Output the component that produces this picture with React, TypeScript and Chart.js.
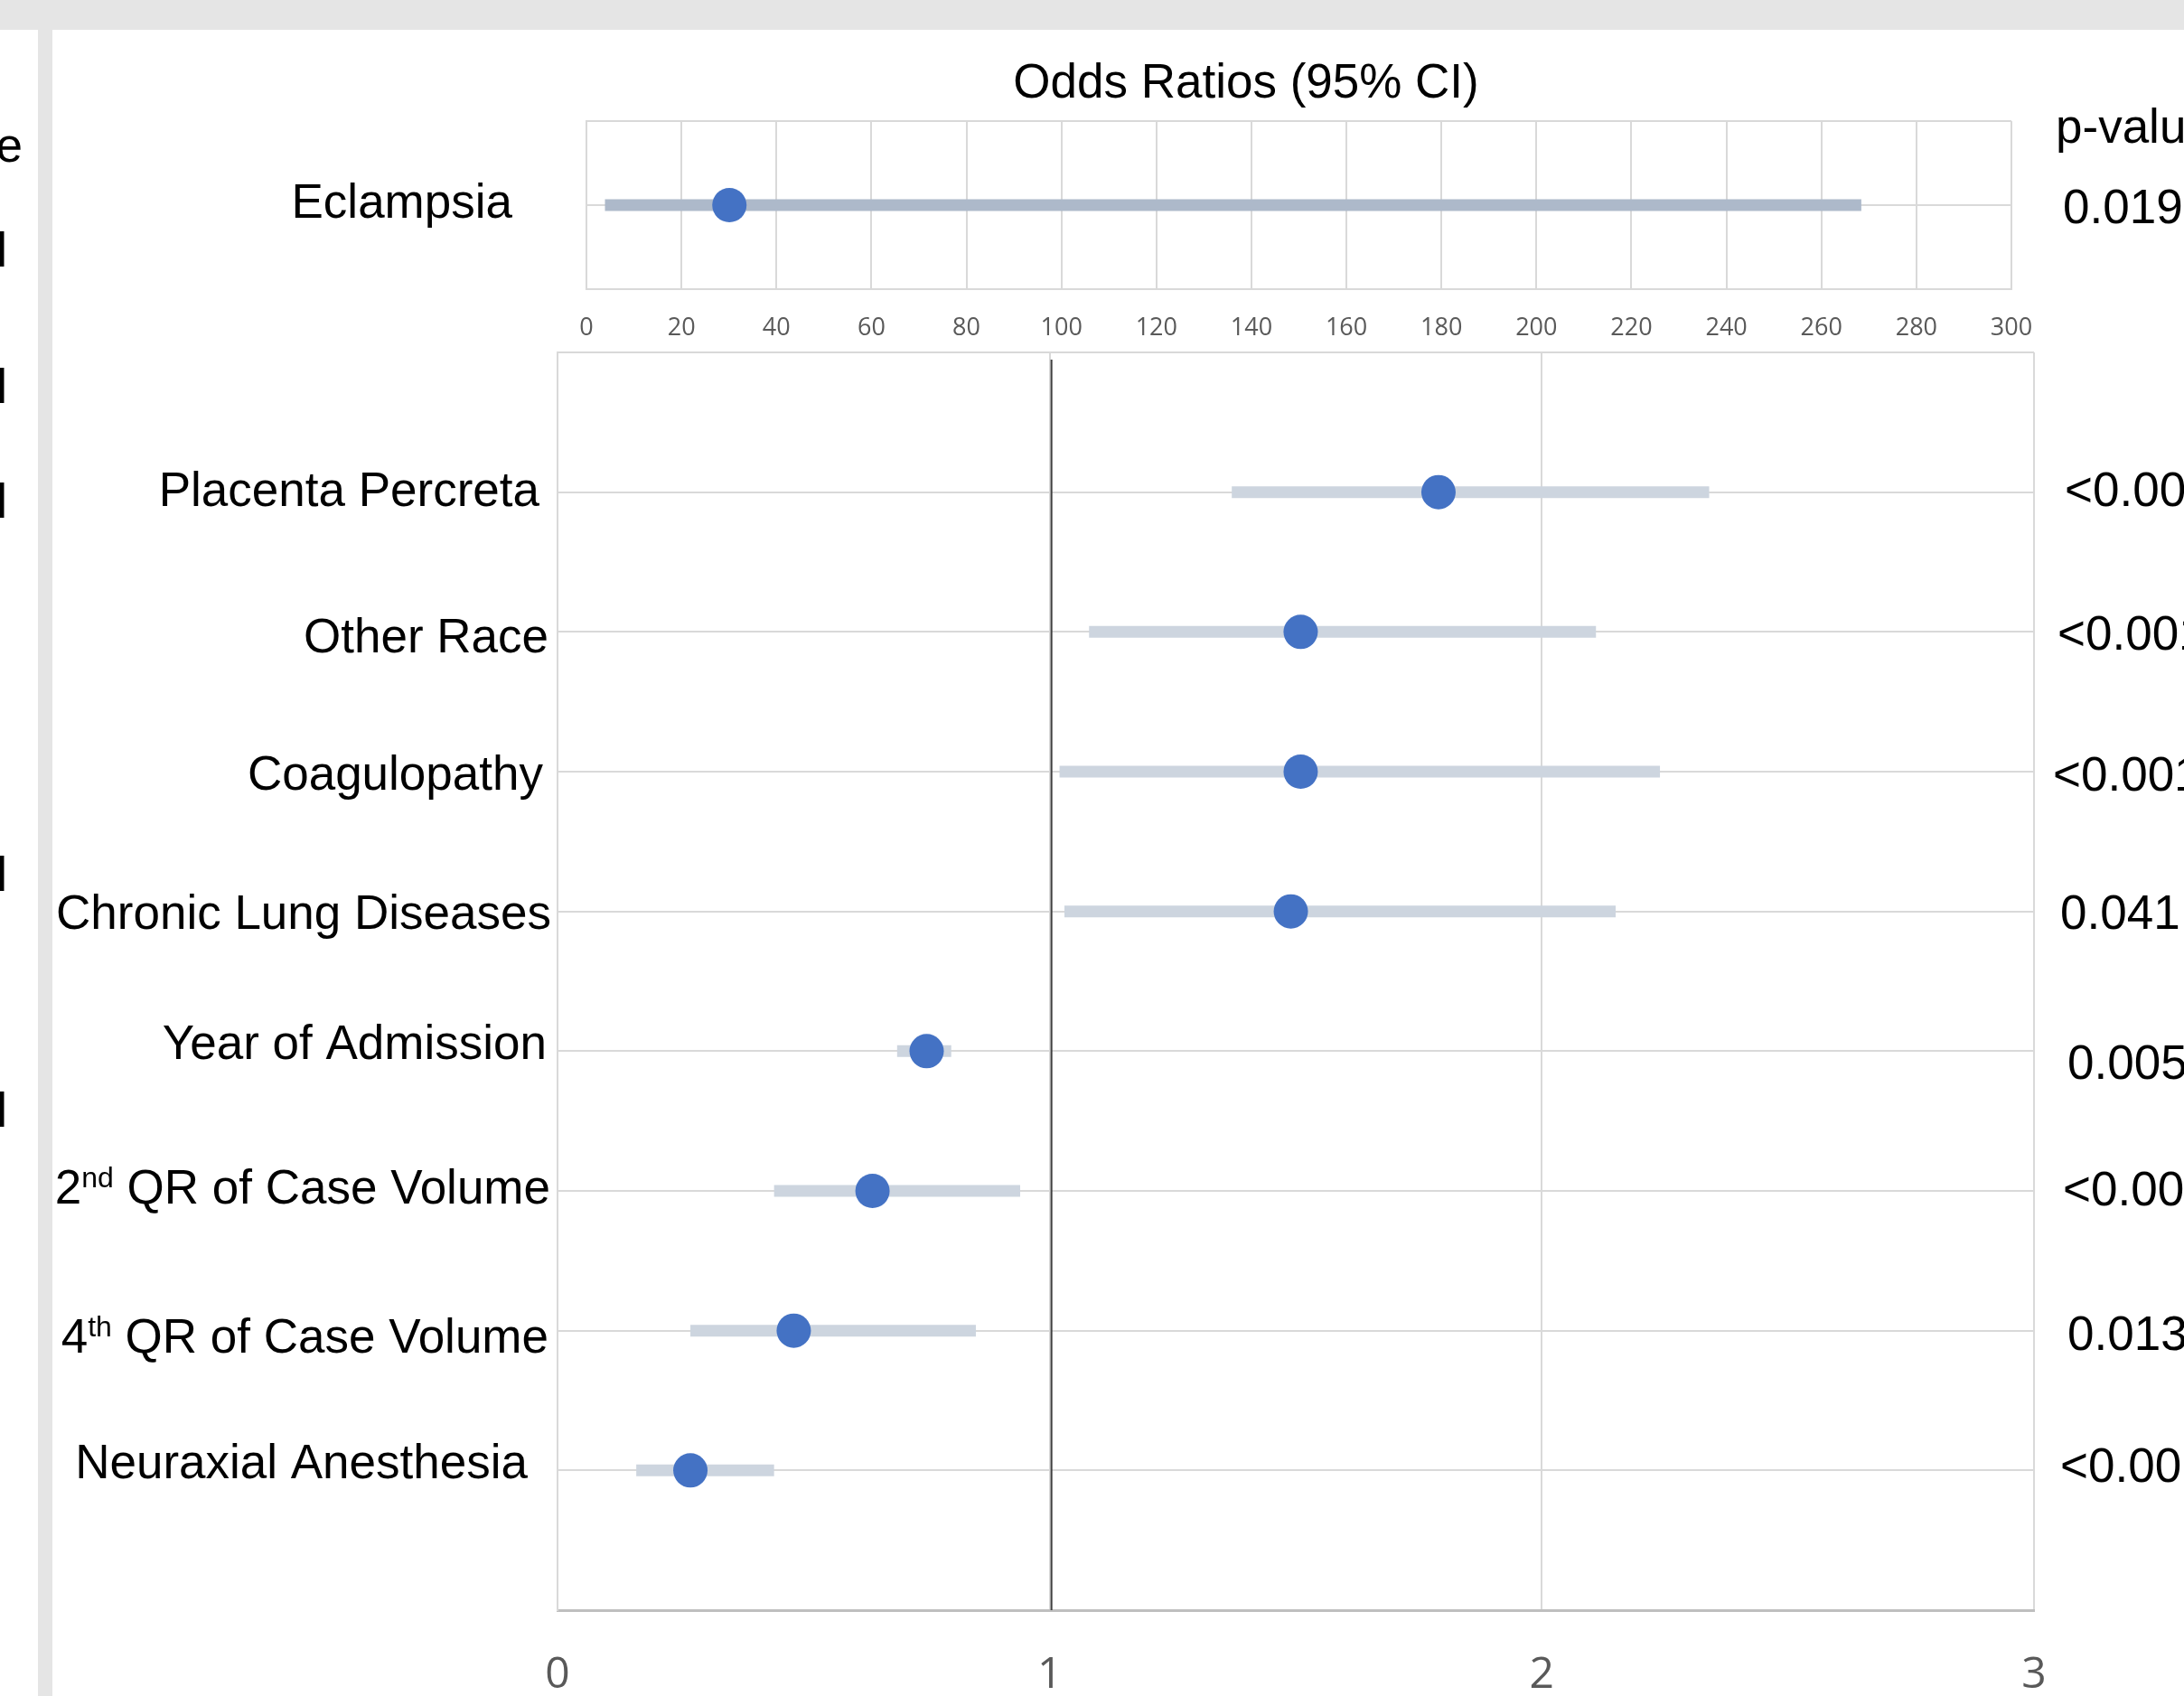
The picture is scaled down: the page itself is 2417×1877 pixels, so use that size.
import React, { useEffect, useRef } from "react";
import { Chart, registerables } from "chart.js";

Chart.register(...registerables);

const PAGE_W = 2417;
const PAGE_H = 1877;

// ---------- main forest plot data ----------
const categories = [
  "Placenta Percreta",
  "Other Race",
  "Coagulopathy",
  "Chronic Lung Diseases",
  "Year of Admission",
  "2nd QR of Case Volume",
  "4th QR of Case Volume",
  "Neuraxial Anesthesia",
];
const oddsRatios = [1.79, 1.51, 1.51, 1.49, 0.75, 0.64, 0.48, 0.27];
const ciLow = [1.37, 1.08, 1.02, 1.03, 0.69, 0.44, 0.27, 0.16];
const ciHigh = [2.34, 2.11, 2.24, 2.15, 0.8, 0.94, 0.85, 0.44];
const pValues = ["<0.001", "<0.001", "<0.001", "0.041", "0.005", "<0.001", "0.013", "<0.001"];
const mainAxisMin = 0;
const mainAxisMax = 3;
const mainAxisStep = 1;

// ---------- top panel data ----------
const topCategories = ["Eclampsia"];
const topOddsRatios = [30.1];
const topCiLow = [3.9];
const topCiHigh = [268.4];
const topPValues = ["0.019"];
const topAxisMin = 0;
const topAxisMax = 300;
const topAxisStep = 20;

const titleText = "Odds Ratios (95% CI)";
const pHeaderText = "p-value";
const leftEdgeTexts = ["e", "l", "l", "l", "l", "l"];

// ---------- layout (text box nudges, pixels) ----------
const labelRight = [597, 607, 601, 610, 605, 609, 607, 584];
const labelDy = [-3, 4, 1, 1, -10, -5, 6, -10];
const pLeft = [2285, 2277, 2272, 2280, 2288, 2283, 2288, 2280];
const pDy = [1, 5, 6, 5, 16, 1, 7, -2];
const fragY = [164, 280, 431, 558, 971, 1232];

// ---------- styles ----------
const LABEL_FONT = "'Liberation Sans', Arial, Helvetica, sans-serif";
const TICK_FONT = "'Open Sans', 'Liberation Sans', sans-serif";
const LABEL_SIZE = 53;
const POINT_COLOR = "#4472C4";
const CI_COLOR = "#CDD5DF";
const TOP_CI_COLOR = "#ADB9CA";
const GRID_COLOR = "#D9D9D9";
const TICK_COLOR = "#595959";

function drawLabelRight(ctx: CanvasRenderingContext2D, text: string, right: number, midY: number, size: number) {
  const baseline = midY + 0.35 * size;
  ctx.textBaseline = "alphabetic";
  ctx.textAlign = "left";
  const m = text.match(/^(\d+)(st|nd|rd|th)(\s.*)$/);
  if (!m) {
    ctx.font = `${size}px ${LABEL_FONT}`;
    const w = ctx.measureText(text).width;
    ctx.fillText(text, right - w, baseline);
    return;
  }
  const supSize = Math.round(size * 0.6);
  ctx.font = `${size}px ${LABEL_FONT}`;
  const w1 = ctx.measureText(m[1]).width;
  const w3 = ctx.measureText(m[3]).width;
  ctx.font = `${supSize}px ${LABEL_FONT}`;
  const w2 = ctx.measureText(m[2]).width;
  let x = right - (w1 + w2 + w3);
  ctx.font = `${size}px ${LABEL_FONT}`;
  ctx.fillText(m[1], x, baseline);
  x += w1;
  ctx.font = `${supSize}px ${LABEL_FONT}`;
  ctx.fillText(m[2], x, baseline - 0.34 * size);
  x += w2;
  ctx.font = `${size}px ${LABEL_FONT}`;
  ctx.fillText(m[3], x, baseline);
}

const mainOverlay = {
  id: "mainOverlay",
  beforeDatasetsDraw(chart: any) {
    const { ctx, chartArea, scales } = chart;
    const x = scales.x.getPixelForValue(1) + 2;
    ctx.save();
    ctx.strokeStyle = "#404040";
    ctx.lineWidth = 2;
    ctx.beginPath();
    ctx.moveTo(x, chartArea.top + 8);
    ctx.lineTo(x, chartArea.bottom);
    ctx.stroke();
    ctx.restore();
  },
  afterDraw(chart: any) {
    const { ctx, scales } = chart;
    ctx.save();
    ctx.fillStyle = "#000000";
    categories.forEach((c, i) => {
      const y = scales.y.getPixelForValue(i + 1);
      drawLabelRight(ctx, c, labelRight[i], y + labelDy[i], LABEL_SIZE);
      ctx.font = `${LABEL_SIZE}px ${LABEL_FONT}`;
      ctx.textAlign = "left";
      ctx.textBaseline = "middle";
      ctx.fillText(pValues[i], pLeft[i], y + pDy[i]);
    });
    // fragments of the cut-off left column
    ctx.font = `${LABEL_SIZE}px ${LABEL_FONT}`;
    ctx.textAlign = "right";
    ctx.textBaseline = "middle";
    leftEdgeTexts.forEach((t, i) => {
      ctx.fillText(t, i === 0 ? 25 : 8, fragY[i]);
    });
    ctx.restore();
  },
};

const topOverlay = {
  id: "topOverlay",
  afterDraw(chart: any) {
    const { ctx, chartArea, scales } = chart;
    ctx.save();
    ctx.fillStyle = "#000000";
    ctx.font = `${LABEL_SIZE}px ${LABEL_FONT}`;
    ctx.textBaseline = "middle";
    ctx.textAlign = "center";
    ctx.fillText(titleText, 1379, 93);
    ctx.textAlign = "left";
    ctx.fillText(pHeaderText, chartArea.right + 49, 143);
    topCategories.forEach((c, i) => {
      const y = scales.y.getPixelForValue(i + 1);
      drawLabelRight(ctx, c, chartArea.left - 82, y - 5, LABEL_SIZE);
      ctx.font = `${LABEL_SIZE}px ${LABEL_FONT}`;
      ctx.textAlign = "left";
      ctx.textBaseline = "middle";
      ctx.fillText(topPValues[i], chartArea.right + 57, y + 5);
    });
    ctx.restore();
  },
};

function mainConfig(): any {
  const MAIN_BOTTOM = 1782;
  return {
    type: "scatter",
    data: {
      datasets: [
        {
          label: "Odds ratio",
          data: categories.map((_, i) => ({ x: oddsRatios[i], y: i + 1 })),
          pointRadius: 19,
          pointHoverRadius: 19,
          pointBackgroundColor: POINT_COLOR,
          pointBorderColor: POINT_COLOR,
          pointBorderWidth: 0,
          showLine: false,
        },
        ...categories.map((c, i) => ({
          label: c + " CI",
          data: [
            { x: ciLow[i], y: i + 1 },
            { x: ciHigh[i], y: i + 1 },
          ],
          showLine: true,
          borderColor: CI_COLOR,
          backgroundColor: CI_COLOR,
          borderWidth: 13,
          borderCapStyle: "butt",
          pointRadius: 0,
          pointHoverRadius: 0,
        })),
      ],
    },
    options: {
      responsive: false,
      animation: false,
      devicePixelRatio: 1,
      events: [],
      layout: { padding: { left: 617, top: 390, right: PAGE_W - 2251, bottom: 0 } },
      plugins: { legend: { display: false }, tooltip: { enabled: false }, title: { display: false } },
      scales: {
        x: {
          type: "linear",
          position: "bottom",
          min: mainAxisMin,
          max: mainAxisMax,
          ticks: {
            stepSize: mainAxisStep,
            color: TICK_COLOR,
            font: { family: TICK_FONT, size: 48 },
            padding: 44,
          },
          grid: { color: GRID_COLOR, lineWidth: 2, drawTicks: false },
          border: { display: true, color: "#BFBFBF", width: 3 },
          afterFit: (s: any) => {
            s.height = PAGE_H - MAIN_BOTTOM;
          },
        },
        y: {
          type: "linear",
          min: 0,
          max: categories.length + 1,
          reverse: true,
          ticks: { stepSize: 1, display: false },
          grid: {
            color: (c: any) => (c.tick && c.tick.value === categories.length + 1 ? "rgba(0,0,0,0)" : GRID_COLOR),
            lineWidth: 2,
            drawTicks: false,
          },
          border: { display: true, color: GRID_COLOR, width: 2 },
          afterFit: (s: any) => {
            s.width = 0;
          },
        },
      },
    },
    plugins: [mainOverlay],
  };
}

function topConfig(): any {
  const TOP_H = 400;
  const TOP_BOTTOM = 320;
  return {
    type: "scatter",
    data: {
      datasets: [
        {
          label: "Odds ratio",
          data: topCategories.map((_, i) => ({ x: topOddsRatios[i], y: i + 1 })),
          pointRadius: 19,
          pointHoverRadius: 19,
          pointBackgroundColor: POINT_COLOR,
          pointBorderColor: POINT_COLOR,
          pointBorderWidth: 0,
          showLine: false,
        },
        ...topCategories.map((c, i) => ({
          label: c + " CI",
          data: [
            { x: topCiLow[i], y: i + 1 },
            { x: topCiHigh[i], y: i + 1 },
          ],
          showLine: true,
          borderColor: TOP_CI_COLOR,
          backgroundColor: TOP_CI_COLOR,
          borderWidth: 13,
          borderCapStyle: "butt",
          pointRadius: 0,
          pointHoverRadius: 0,
        })),
      ],
    },
    options: {
      responsive: false,
      animation: false,
      devicePixelRatio: 1,
      events: [],
      layout: { padding: { left: 649, top: 134, right: PAGE_W - 2226, bottom: 0 } },
      plugins: { legend: { display: false }, tooltip: { enabled: false }, title: { display: false } },
      scales: {
        x: {
          type: "linear",
          position: "bottom",
          min: topAxisMin,
          max: topAxisMax,
          ticks: {
            stepSize: topAxisStep,
            color: TICK_COLOR,
            font: { family: TICK_FONT, size: 27 },
            padding: 27,
            autoSkip: false,
            maxRotation: 0,
          },
          grid: { color: GRID_COLOR, lineWidth: 2, drawTicks: false },
          border: { display: true, color: GRID_COLOR, width: 2 },
          afterFit: (s: any) => {
            s.height = TOP_H - TOP_BOTTOM;
          },
        },
        y: {
          type: "linear",
          min: 0,
          max: topCategories.length + 1,
          reverse: true,
          ticks: { stepSize: 1, display: false },
          grid: { color: GRID_COLOR, lineWidth: 2, drawTicks: false },
          border: { display: true, color: GRID_COLOR, width: 2 },
          afterFit: (s: any) => {
            s.width = 0;
          },
        },
      },
    },
    plugins: [topOverlay],
  };
}

export default function App() {
  const mainRef = useRef<HTMLCanvasElement>(null);
  const topRef = useRef<HTMLCanvasElement>(null);

  useEffect(() => {
    const main = new Chart(mainRef.current as HTMLCanvasElement, mainConfig());
    const top = new Chart(topRef.current as HTMLCanvasElement, topConfig());
    return () => {
      main.destroy();
      top.destroy();
    };
  }, []);

  return (
    <div
      style={{
        position: "fixed",
        left: 0,
        top: 0,
        width: PAGE_W,
        height: PAGE_H,
        background: "#FFFFFF",
        overflow: "hidden",
      }}
    >
      <div style={{ position: "absolute", left: 0, top: 0, width: PAGE_W, height: 33, background: "#E5E5E5" }} />
      <div style={{ position: "absolute", left: 42, top: 33, width: 16, height: PAGE_H - 33, background: "#E5E5E5" }} />
      <canvas
        ref={mainRef}
        width={PAGE_W}
        height={PAGE_H}
        style={{ position: "absolute", left: 0, top: 0, width: PAGE_W, height: PAGE_H }}
      />
      <canvas
        ref={topRef}
        width={PAGE_W}
        height={400}
        style={{ position: "absolute", left: 0, top: 0, width: PAGE_W, height: 400 }}
      />
    </div>
  );
}
